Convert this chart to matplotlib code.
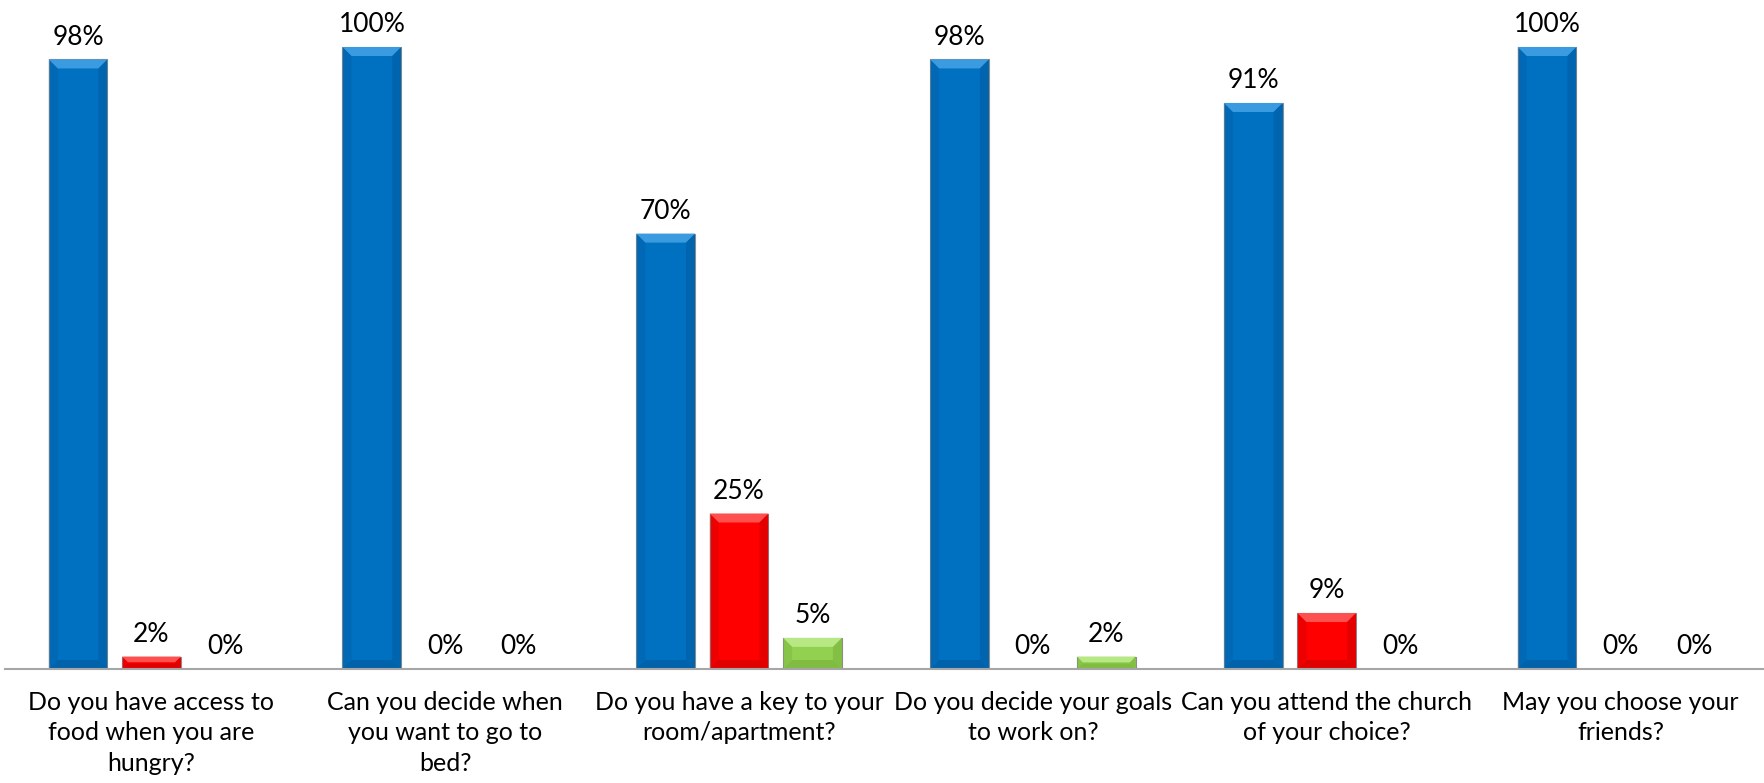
import matplotlib.pyplot as plt
from matplotlib.patches import Polygon

plt.rcParams["font.family"] = ["Lato", "DejaVu Sans"]

# questions asked and answers in percent
questions = [
    "Do you have access to\nfood when you are\nhungry?",
    "Can you decide when\nyou want to go to\nbed?",
    "Do you have a key to your\nroom/apartment?",
    "Do you decide your goals\nto work on?",
    "Can you attend the church\nof your choice?",
    "May you choose your\nfriends?",
]
yes_pct = [98, 100, 70, 98, 91, 100]
no_pct = [2, 0, 25, 0, 9, 0]
other_pct = [0, 0, 5, 2, 0, 0]

series = [
    (yes_pct, "#0070C0", "#3A9BE0", "#005A9E"),
    (no_pct, "#FF0000", "#FF5050", "#CC0000"),
    (other_pct, "#92D050", "#B8E884", "#76B03A"),
]

W, H = 1765, 783
fig = plt.figure(figsize=(W / 100, H / 100), dpi=100)
ax = fig.add_axes([4.6 / W, 1 - 669 / H, 6 * 293.8 / W, 669 / H])
ax.set_xlim(-0.5, 5.5)
ax.set_ylim(0, 669 / 622 * 100)

bar_w = 0.2
step = 0.25

# size of the bevel, in pixels, turned into data units
px_x = (5.5 - -0.5) / (6 * 293.8)
px_y = (669 / 622 * 100) / 669
bev = 9


def bevel(x0, x1, top, light, dark):
    """petit effet de relief comme dans Excel"""
    h_px = top / px_y
    b = min(bev, h_px / 2.2)
    bx, by = b * px_x, b * px_y
    # haut clair
    ax.add_patch(Polygon([(x0, top), (x1, top), (x1 - bx, top - by), (x0 + bx, top - by)],
                         closed=True, fc=light, ec="none", zorder=3))
    # bas sombre
    ax.add_patch(Polygon([(x0, 0), (x1, 0), (x1 - bx, by), (x0 + bx, by)],
                         closed=True, fc=dark, ec="none", zorder=3, alpha=0.6))
    # cotes
    ax.add_patch(Polygon([(x0, 0), (x0 + bx, by), (x0 + bx, top - by), (x0, top)],
                         closed=True, fc=dark, ec="none", zorder=3, alpha=0.35))
    ax.add_patch(Polygon([(x1, 0), (x1 - bx, by), (x1 - bx, top - by), (x1, top)],
                         closed=True, fc=dark, ec="none", zorder=3, alpha=0.5))


for k, (vals, col, light, dark) in enumerate(series):
    xs = [i + (k - 1) * step for i in range(len(questions))]
    bars = ax.bar(xs, vals, width=bar_w, color=col, edgecolor="#8C8C8C",
                  linewidth=0.8, zorder=2)
    for b, v in zip(bars, vals):
        if v > 0:
            bevel(b.get_x(), b.get_x() + b.get_width(), v, light, dark)
        ax.annotate(f"{v}%", (b.get_x() + b.get_width() / 2, v),
                    xytext=(0, 16), textcoords="offset points",
                    ha="center", va="center", fontsize=19)

ax.set_xticks(range(len(questions)))
ax.set_xticklabels(questions, fontsize=18, linespacing=1.38, va="top")
ax.tick_params(axis="x", length=0, pad=16)
ax.set_yticks([])
for s in ["top", "left", "right"]:
    ax.spines[s].set_visible(False)
ax.spines["bottom"].set_color("#A6A6A6")
ax.spines["bottom"].set_linewidth(1.5)
ax.spines["bottom"].set_zorder(4)

fig.savefig("out.png", dpi=100)
